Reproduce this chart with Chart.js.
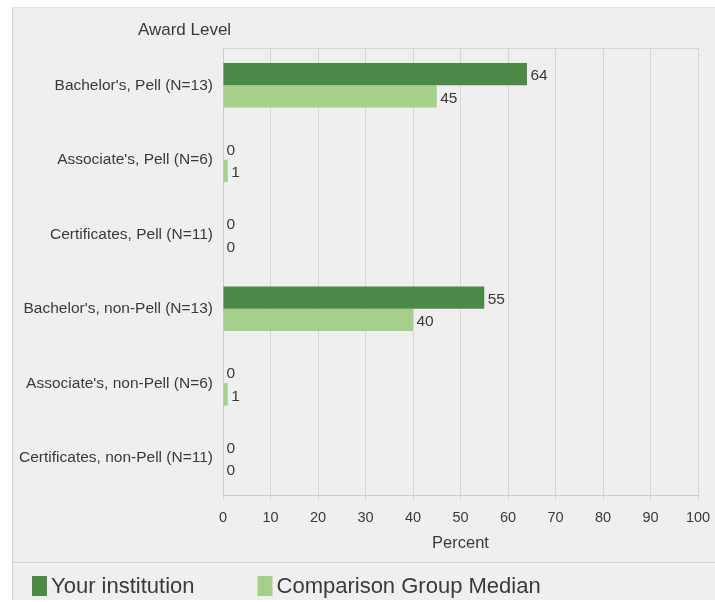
<!DOCTYPE html>
<html>
<head>
<meta charset="utf-8">
<script src="https://cdn.jsdelivr.net/npm/chart.js@4"></script>
<style>
  html, body { margin: 0; padding: 0; background: #ffffff; }
  #wrap { position: relative; width: 715px; height: 602px; overflow: hidden; }
  #panel { position: absolute; left: 12px; top: 7px; width: 703px; height: 593px;
           background: #efefef; border-left: 1px solid #d2d2d2; border-top: 1px solid #e2e2e2; box-sizing: border-box; }
  #sep { position: absolute; left: 12px; top: 562px; width: 703px; height: 1px; background: #d2d2d2; }
  canvas { position: absolute; left: 0; top: 0; }
</style>
</head>
<body>
<div id="wrap">
  <div id="panel"></div>
  <div id="sep"></div>
  <canvas id="c" width="715" height="602"></canvas>
</div>
<script>
const categories = [
  "Bachelor's, Pell (N=13)",
  "Associate's, Pell (N=6)",
  "Certificates, Pell (N=11)",
  "Bachelor's, non-Pell (N=13)",
  "Associate's, non-Pell (N=6)",
  "Certificates, non-Pell (N=11)"
];
const yourInstitution = [64, 0, 0, 55, 0, 0];
const comparisonMedian = [45, 1, 0, 40, 1, 0];
const seriesNames = ["Your institution", "Comparison Group Median"];
const axisTitleY = "Award Level";
const axisTitleX = "Percent";
const xMin = 0, xMax = 100, xStep = 10;

const FF = "'Liberation Sans', Arial, sans-serif";
const TEXT = '#3a3a3a';
const DARK = '#4d8a48';
const LIGHT = '#a7cf8c';

const extras = {
  id: 'extras',
  afterDraw(chart) {
    const ctx = chart.ctx;
    const ca = chart.chartArea;
    ctx.save();
    // top border of plot
    ctx.strokeStyle = '#d6d6d6';
    ctx.lineWidth = 1;
    ctx.beginPath();
    ctx.moveTo(ca.left, Math.round(ca.top) + 0.5);
    ctx.lineTo(ca.right, Math.round(ca.top) + 0.5);
    ctx.stroke();

    // y-axis heading
    ctx.fillStyle = TEXT;
    ctx.font = "17px " + FF;
    ctx.textAlign = 'center';
    ctx.textBaseline = 'middle';
    ctx.fillText(axisTitleY, ca.left - 38.5, ca.top - 18);

    // value labels
    ctx.font = "15.5px " + FF;
    ctx.textAlign = 'left';
    ctx.textBaseline = 'middle';
    chart.data.datasets.forEach((ds, di) => {
      const meta = chart.getDatasetMeta(di);
      meta.data.forEach((bar, i) => {
        ctx.fillText(String(ds.data[i]), bar.x + 3.5, bar.y + 2);
      });
    });

    // legend
    const ly = 586;
    let lx = 32;
    ctx.font = "22px " + FF;
    chart.data.datasets.forEach((ds, di) => {
      ctx.fillStyle = ds.backgroundColor;
      ctx.fillRect(lx, ly - 10, 15, 20);
      ctx.fillStyle = TEXT;
      ctx.fillText(ds.label, lx + 19, ly + 1);
      lx += 19 + ctx.measureText(ds.label).width + 63;
    });
    ctx.restore();
  }
};

new Chart(document.getElementById('c'), {
  type: 'bar',
  data: {
    labels: categories,
    datasets: [
      { label: seriesNames[0], data: yourInstitution, backgroundColor: DARK, borderWidth: 0,
        categoryPercentage: 0.6, barPercentage: 1.0 },
      { label: seriesNames[1], data: comparisonMedian, backgroundColor: LIGHT, borderWidth: 0,
        categoryPercentage: 0.6, barPercentage: 1.0 }
    ]
  },
  options: {
    indexAxis: 'y',
    responsive: false,
    animation: false,
    devicePixelRatio: 1,
    layout: { padding: { top: 48, left: 15, right: 17, bottom: 49 } },
    plugins: {
      legend: { display: false },
      tooltip: { enabled: false },
      title: { display: false }
    },
    scales: {
      x: {
        type: 'linear', position: 'bottom', min: xMin, max: xMax,
        ticks: { stepSize: xStep, color: TEXT, font: { family: FF, size: 14.5 }, padding: 9 },
        grid: { color: '#d6d6d6', lineWidth: 1, drawTicks: true, tickLength: 5 },
        border: { display: true, color: '#cdcdcd' },
        title: { display: true, text: axisTitleX, color: TEXT, font: { family: FF, size: 16.5 },
                 padding: { top: 0, bottom: 0 } },
        afterFit(s) { s.height = 58; s.paddingLeft = 0; s.paddingRight = 0; }
      },
      y: {
        type: 'category',
        ticks: { color: TEXT, font: { family: FF, size: 15.5 }, padding: 10, autoSkip: false },
        grid: { display: false, drawTicks: false },
        border: { display: true, color: '#cdcdcd' },
        afterFit(s) { s.width = 208; s.paddingTop = 0; s.paddingBottom = 0; }
      }
    }
  },
  plugins: [extras]
});
</script>
</body>
</html>
